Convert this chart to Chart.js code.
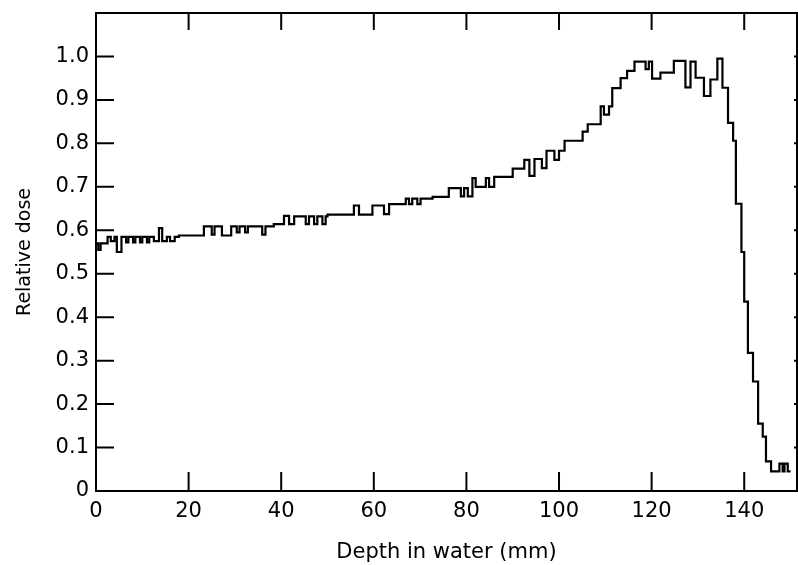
<!DOCTYPE html>
<html>
<head>
<meta charset="utf-8">
<script src="https://cdn.jsdelivr.net/npm/chart.js@4"></script>
<style>
  html, body { margin: 0; padding: 0; background: #fff; }
  #wrap { width: 798px; height: 565px; }
</style>
</head>
<body>
<div id="wrap"><canvas id="depthDose" width="798" height="565"></canvas></div>
<script>
// step edges (mm) and the dose on each step
const depthMm = [
  0, 0.5, 1.0, 2.5, 3.2, 4.0, 4.5, 5.5, 6.5, 7.0,
  8.0, 8.5, 9.5, 10.0, 11.0, 11.5, 12.5, 13.6, 14.3, 15.3,
  16.0, 17.0, 17.9, 23.3, 25.0, 25.6, 27.2, 29.2, 30.4, 31.0,
  32.2, 32.8, 35.9, 36.6, 38.4, 40.6, 41.7, 42.8, 45.3, 46.0,
  47.1, 47.8, 48.9, 49.6, 50.0, 55.7, 56.8, 59.7, 62.2, 63.3,
  66.9, 67.6, 68.3, 69.4, 70.1, 72.7, 76.2, 78.8, 79.5, 80.3,
  81.3, 82.0, 84.2, 84.9, 86.0, 90.0, 92.5, 93.6, 94.7, 96.3,
  97.3, 99.0, 100.0, 101.2, 105.1, 106.2, 109.0, 109.7, 110.8, 111.5,
  113.3, 114.7, 116.3, 118.7, 119.4, 120.1, 121.9, 124.8, 127.3, 128.4,
  129.5, 131.3, 132.7, 134.2, 135.3, 136.5, 137.6, 138.2, 139.4, 140.0,
  140.8, 141.9, 143.0, 144.0, 144.7, 145.8, 147.6, 148.3, 148.7, 149.4,
  150.0
];
const relDose = [
  0.57, 0.555, 0.57, 0.585, 0.575, 0.585, 0.55, 0.585, 0.572, 0.585,
  0.572, 0.585, 0.572, 0.585, 0.572, 0.585, 0.575, 0.605, 0.575, 0.585,
  0.575, 0.585, 0.588, 0.609, 0.59, 0.609, 0.588, 0.609, 0.595, 0.609,
  0.595, 0.609, 0.59, 0.609, 0.614, 0.633, 0.614, 0.632, 0.614, 0.632,
  0.614, 0.632, 0.614, 0.632, 0.636, 0.657, 0.636, 0.657, 0.637, 0.66,
  0.673, 0.66, 0.673, 0.66, 0.673, 0.677, 0.697, 0.678, 0.697, 0.678,
  0.72, 0.70, 0.72, 0.70, 0.723, 0.742, 0.762, 0.725, 0.764, 0.743,
  0.783, 0.762, 0.783, 0.806, 0.827, 0.844, 0.885, 0.866, 0.885, 0.927,
  0.95, 0.967, 0.988, 0.971, 0.988, 0.949, 0.963, 0.99, 0.929, 0.988,
  0.951, 0.909, 0.947, 0.995, 0.928, 0.847, 0.806, 0.661, 0.55, 0.436,
  0.318, 0.252, 0.155, 0.125, 0.068, 0.045, 0.063, 0.045, 0.063, 0.045,
  0.045
];

const xTicks = [0, 20, 40, 60, 80, 100, 120, 140];
const yTicks = [0, 0.1, 0.2, 0.3, 0.4, 0.5, 0.6, 0.7, 0.8, 0.9, 1.0];

const points = depthMm.map((d, i) => ({ x: d, y: relDose[i] }));

// box round the plot and inward tick marks on all four sides
const frame = {
  id: 'frame',
  afterDraw(chart) {
    const { ctx, chartArea: a, scales } = chart;
    const xs = scales.x, ys = scales.y;
    ctx.save();
    ctx.strokeStyle = '#000';
    ctx.lineWidth = 2;
    ctx.strokeRect(a.left, a.top, a.right - a.left, a.bottom - a.top);
    ctx.beginPath();
    yTicks.forEach(v => {
      if (v === 0) return;
      const y = ys.getPixelForValue(v);
      ctx.moveTo(a.left, y); ctx.lineTo(a.left + 18, y);
      ctx.moveTo(a.right, y); ctx.lineTo(a.right - 3, y);
    });
    xTicks.forEach(v => {
      if (v === 0) return;
      const x = xs.getPixelForValue(v);
      ctx.moveTo(x, a.bottom); ctx.lineTo(x, a.bottom - 19);
      ctx.moveTo(x, a.top); ctx.lineTo(x, a.top + 17);
    });
    ctx.stroke();
    ctx.restore();
  }
};

new Chart(document.getElementById('depthDose'), {
  type: 'line',
  data: {
    datasets: [{
      data: points,
      stepped: 'before',
      borderColor: '#000',
      borderWidth: 2.2,
      pointRadius: 0,
      fill: false
    }]
  },
  options: {
    responsive: false,
    animation: false,
    layout: { padding: { top: 13, right: 1, left: 0, bottom: 0 } },
    plugins: { legend: { display: false }, tooltip: { enabled: false } },
    scales: {
      x: {
        type: 'linear',
        min: 0,
        max: 151.4,
        grid: { display: false, drawTicks: false },
        border: { display: false },
        afterBuildTicks: s => { s.ticks = xTicks.map(v => ({ value: v })); },
        afterFit: s => { s.height = 74; s.paddingLeft = 0; s.paddingRight = 0; },
        ticks: {
          color: '#000',
          padding: 8,
          maxRotation: 0,
          font: { family: 'DejaVu Sans', size: 21 },
          callback: v => String(v)
        },
        title: {
          display: true,
          text: 'Depth in water (mm)',
          color: '#000',
          font: { family: 'DejaVu Sans', size: 21 },
          padding: { top: 0, bottom: 0 }
        }
      },
      y: {
        type: 'linear',
        min: 0,
        max: 1.1,
        grid: { display: false, drawTicks: false },
        border: { display: false },
        afterBuildTicks: s => { s.ticks = yTicks.map(v => ({ value: v })); },
        afterFit: s => { s.width = 96; s.paddingTop = 0; s.paddingBottom = 0; },
        ticks: {
          color: '#000',
          padding: 7,
          font: { family: 'DejaVu Sans', size: 21 },
          callback: v => v === 0 ? '0' : v.toFixed(1)
        },
        title: {
          display: true,
          text: 'Relative dose',
          color: '#000',
          font: { family: 'DejaVu Sans', size: 19 },
          padding: { top: 14, bottom: 0 }
        }
      }
    }
  },
  plugins: [frame]
});
</script>
</body>
</html>
